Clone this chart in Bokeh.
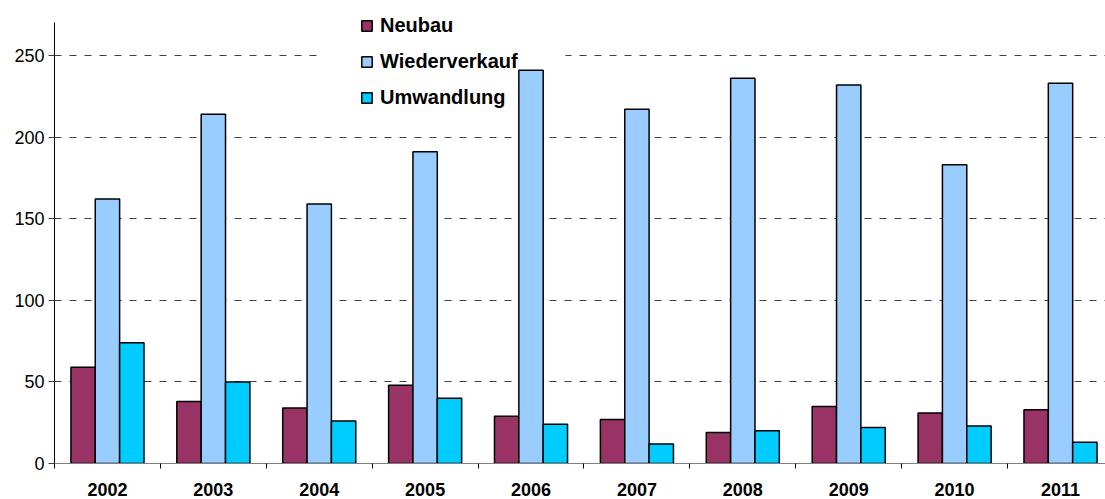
from bokeh.plotting import figure
from bokeh.models import (ColumnDataSource, FixedTicker, Legend, LegendItem,
                          BoxAnnotation, Range1d)
from bokeh.embed import file_html
from bokeh.resources import INLINE
import numpy as np

years = ["2002", "2003", "2004", "2005", "2006", "2007", "2008", "2009", "2010", "2011"]
neubau = [59, 38, 34, 48, 29, 27, 19, 35, 31, 33]
wiederverkauf = [162, 214, 159, 191, 241, 217, 236, 232, 183, 233]
umwandlung = [74, 50, 26, 40, 24, 12, 20, 22, 23, 13]
series_names = ["Neubau", "Wiederverkauf", "Umwandlung"]
colors = ["#993366", "#99CCFF", "#00CCFF"]
y_ticks = [0, 50, 100, 150, 200, 250]

FONT = "Liberation Sans"
bar_w = 0.23
centers = np.arange(len(years)) + 0.5

p = figure(width=1105, height=499, output_backend="svg", toolbar_location=None,
           x_range=Range1d(0, 9.925), y_range=Range1d(0, 278.8),
           min_border_left=54, min_border_right=0, min_border_top=8,
           min_border_bottom=36)
p.outline_line_color = None
p.background_fill_color = "white"
p.border_fill_color = "white"

renderers = []
for k, (name, vals, col) in enumerate(zip(series_names, [neubau, wiederverkauf, umwandlung], colors)):
    src = ColumnDataSource(dict(x=centers + (k - 1) * bar_w, top=vals))
    r = p.vbar(x="x", top="top", bottom=0, width=bar_w, source=src,
               fill_color=col, line_color="black", line_width=1.5)
    renderers.append(r)

# grid
p.xgrid.visible = False
p.ygrid.ticker = FixedTicker(ticks=y_ticks[1:])
p.ygrid.grid_line_color = "#404040"
p.ygrid.grid_line_dash = "7 8"
p.ygrid.grid_line_width = 1

# white gap in the top gridline behind the legend
mask = BoxAnnotation(left=321, right=565, top=48, bottom=62,
                     left_units="canvas", right_units="canvas",
                     top_units="canvas", bottom_units="canvas",
                     fill_color="white", fill_alpha=1.0, line_color=None,
                     level="underlay")
p.add_layout(mask)

# y axis
p.yaxis.ticker = FixedTicker(ticks=y_ticks)
p.yaxis.bounds = (0, 270)
p.yaxis.minor_tick_line_color = None
p.yaxis.major_tick_out = 6
p.yaxis.major_tick_in = 0
p.yaxis.major_label_standoff = 4
p.yaxis.axis_line_color = "black"
p.yaxis.major_tick_line_color = "#404040"
p.yaxis.major_label_text_font = FONT
p.yaxis.major_label_text_font_size = "18px"
p.yaxis.major_label_text_color = "black"

# x axis: labels at group centers, tick marks at group boundaries
p.xaxis.ticker = FixedTicker(ticks=list(centers), minor_ticks=list(range(len(years) + 1)))
p.xaxis.major_label_overrides = {float(c): y for c, y in zip(centers, years)}
p.xaxis.major_tick_out = 0
p.xaxis.major_tick_in = 0
p.xaxis.minor_tick_out = 5
p.xaxis.minor_tick_in = 0
p.xaxis.minor_tick_line_color = "black"
p.xaxis.axis_line_color = "#808080"
p.xaxis.major_label_standoff = 14
p.xaxis.major_label_text_font = FONT
p.xaxis.major_label_text_font_style = "bold"
p.xaxis.major_label_text_font_size = "18px"
p.xaxis.major_label_text_color = "black"

legend = Legend(items=[LegendItem(label=n, renderers=[r]) for n, r in zip(series_names, renderers)],
                location=(306, 354), orientation="vertical",
                glyph_width=13, glyph_height=13, label_standoff=7,
                label_height=20, spacing=13, padding=0, margin=0,
                label_text_font=FONT, label_text_font_style="bold",
                label_text_font_size="20px", label_text_color="black",
                background_fill_alpha=0, border_line_color=None)
p.add_layout(legend, "center")

open("out.html", "w").write(file_html(p, INLINE))
